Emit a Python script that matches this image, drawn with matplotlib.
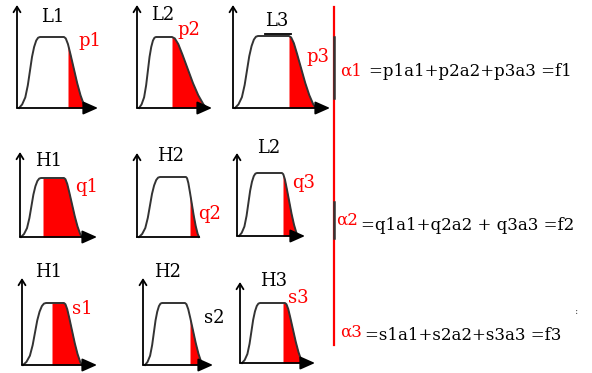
import numpy as np
import matplotlib
matplotlib.use("Agg")
import matplotlib.pyplot as plt

# ---------------- data ----------------
panel_titles = ["L1", "L2", "L3", "H1", "H2", "L2", "H1", "H2", "H3"]
share_labels = ["p1", "p2", "p3", "q1", "q2", "q3", "s1", "s2", "s3"]
share_colors = ["red", "red", "red", "red", "red", "red", "red", "black", "red"]
# shape of the membership curves (normalised rise / fall profiles)
rise_t = [0.0, 0.15, 0.3, 0.42, 0.52, 0.62, 0.72, 0.82, 0.91, 1.0]
rise_h = [0.0, 0.05, 0.15, 0.32, 0.52, 0.72, 0.86, 0.95, 0.99, 1.0]
fall_t = [0.0, 0.08, 0.18, 0.3, 0.45, 0.6, 0.75, 0.9, 1.0]
fall_h = [1.0, 0.98, 0.9, 0.75, 0.55, 0.35, 0.18, 0.05, 0.0]
alpha_labels = ["α1", "α2", "α3"]
equations = ["=p1a1+p2a2+p3a3 =f1", "=q1a1+q2a2 + q3a3 =f2", "=s1a1+s2a2+s3a3 =f3"]

# ---------------- layout (pixel coordinates) ----------------
# (axis_x, base_y, top_y, arrow_end, x0, plateau_start, plateau_end, x1, plateau_y, cut)
geom = [
    (17, 108, 5, 98, 19, 40, 64, 86, 37, 68),
    (137, 108, 5, 212, 139, 156, 172, 207, 37, 172),
    (233, 108, 5, 330, 235, 258, 289, 316, 36, 289),
    (20, 237, 152, 97, 21, 41, 64, 82, 178, 43),
    (137, 237, 153, None, 139, 160, 186, 199, 177, 190),
    (237, 236, 153, 305, 239, 257, 282, 298, 173, 283),
    (22, 365, 278, 97, 23, 46, 64, 82, 303, 52),
    (143, 365, 278, 213, 145, 162, 185, 203, 303, 190),
    (240, 363, 282, 315, 242, 260, 285, 303, 303, 283),
]
title_pos = [(53, 17), (163, 15), (277, 21), (49, 161), (171, 156), (269, 148),
             (49, 272), (168, 272), (274, 281)]
share_pos = [(90, 41), (189, 30), (318, 57), (87, 187), (210, 214), (304, 183),
             (82, 309), (214, 318), (298, 298)]

W, H = 592, 373
fig = plt.figure(figsize=(W / 100, H / 100), dpi=100)
ax = fig.add_axes([0, 0, 1, 1])
ax.set_xlim(0, W)
ax.set_ylim(H, 0)
ax.axis("off")

serif = "DejaVu Serif"

for i, g in enumerate(geom):
    axx, base, top, aend, x0, xa, xb, x1, py, cut = g
    hgt = base - py
    rx = x0 + np.array(rise_t) * (xa - x0)
    ry = base - np.array(rise_h) * hgt
    fx = xb + np.array(fall_t) * (x1 - xb)
    fy = base - np.array(fall_h) * hgt
    cx = np.concatenate([rx, fx])
    cy = np.concatenate([ry, fy])
    xs = np.linspace(cut, x1, 60)
    ys = np.interp(xs, cx, cy)
    ax.fill_between(xs, ys, base, color="red", lw=0, zorder=2)
    ax.plot(cx, cy, color="#333333", lw=1.4, zorder=3, solid_joinstyle="round")
    ax.annotate("", xy=(axx, top), xytext=(axx, base),
                arrowprops=dict(arrowstyle="->,head_length=0.4,head_width=0.25",
                                color="black", lw=1.3, shrinkA=0, shrinkB=0), zorder=4)
    if aend is not None:
        ax.annotate("", xy=(aend, base), xytext=(axx, base),
                    arrowprops=dict(arrowstyle="-|>,head_length=0.9,head_width=0.4",
                                    color="black", lw=1.3, shrinkA=0, shrinkB=0), zorder=4)
    else:
        ax.plot([axx, x1], [base, base], color="black", lw=1.3, zorder=4)
    tx, ty = title_pos[i]
    ax.text(tx, ty, panel_titles[i], ha="center", va="center", fontsize=13,
            family=serif, color="black")
    sx, sy = share_pos[i]
    ax.text(sx, sy, share_labels[i], ha="center", va="center", fontsize=13,
            family=serif, color=share_colors[i])

# L3 top marker line
ax.plot([265, 291], [34, 34], color="black", lw=1.3)

# vertical divider
ax.plot([334, 334], [7, 345], color="red", lw=1.6)
ax.plot([334, 334], [37, 98], color="#333333", lw=1.8)
ax.plot([334, 334], [202, 238], color="#333333", lw=1.8)

alpha_pos = [(351, 71), (347, 220), (351, 332)]
eq_pos = [(369, 72), (361, 225), (365, 335)]
for k in range(3):
    ax.text(*alpha_pos[k], alpha_labels[k], ha="center", va="center", fontsize=12,
            family=serif, color="red")
    ax.text(*eq_pos[k], equations[k], ha="left", va="center", fontsize=12,
            family=serif, color="black")
ax.text(577, 312, ":", ha="center", va="center", fontsize=7, family=serif, color="#444444")

fig.savefig("out.png", dpi=100)
